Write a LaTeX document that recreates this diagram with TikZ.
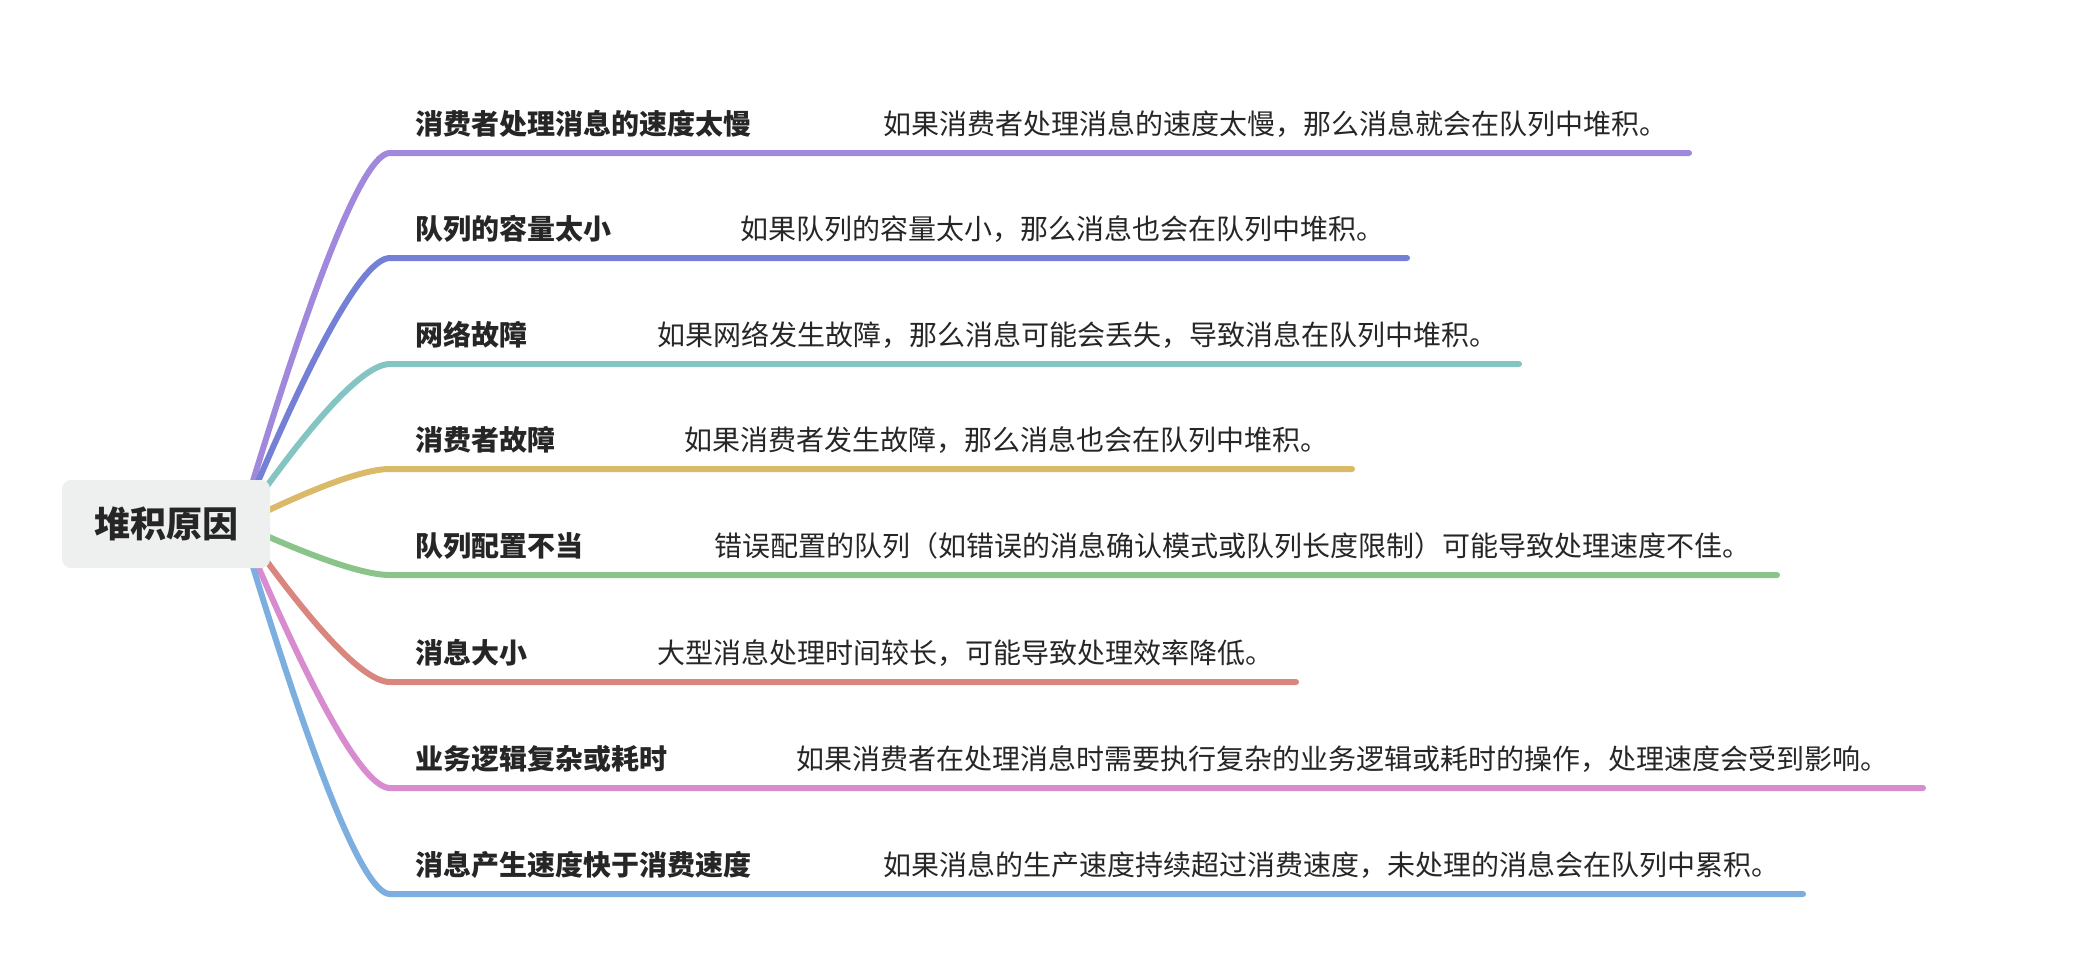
\documentclass[tikz,border=0pt]{standalone}
\usepackage{fontspec}
\setmainfont{Noto Sans CJK SC}
\usetikzlibrary{calc}
\definecolor{cA}{HTML}{A088DC}
\definecolor{cB}{HTML}{7380D6}
\definecolor{cC}{HTML}{84C5C3}
\definecolor{cD}{HTML}{DABA68}
\definecolor{cE}{HTML}{8AC48A}
\definecolor{cF}{HTML}{D9867E}
\definecolor{cG}{HTML}{D98BD0}
\definecolor{cH}{HTML}{7CAFDF}
\definecolor{txt}{HTML}{262626}
\definecolor{rootfill}{HTML}{EEF0EF}
\begin{document}
\begin{tikzpicture}[x=1pt,y=-1pt,
  branch/.style={line width=6pt,line cap=round},
  lab/.style={anchor=base west,inner sep=0pt,text=txt,font=\fontsize{28}{34}\selectfont\bfseries},
  des/.style={anchor=base west,inner sep=0pt,text=txt,font=\fontsize{28}{34}\selectfont},
  rootbox/.style={fill=rootfill,rounded corners=9pt,minimum width=208pt,minimum height=88pt,inner sep=0pt,text=txt,font=\fontsize{36}{42}\selectfont\bfseries}]
\useasboundingbox (0,0) rectangle (2084,962);
\coordinate (hub) at (240,524);
\foreach \ly/\ex/\dx/\col/\lab/\des [count=\i] in {
  153/1689/883/cA/消费者处理消息的速度太慢/如果消费者处理消息的速度太慢，那么消息就会在队列中堆积。,
  258/1407/740/cB/队列的容量太小/如果队列的容量太小，那么消息也会在队列中堆积。,
  364/1519/657/cC/网络故障/如果网络发生故障，那么消息可能会丢失，导致消息在队列中堆积。,
  469/1352/684/cD/消费者故障/如果消费者发生故障，那么消息也会在队列中堆积。,
  575/1777/714/cE/队列配置不当/错误配置的队列（如错误的消息确认模式或队列长度限制）可能导致处理速度不佳。,
  682/1296/657/cF/消息大小/大型消息处理时间较长，可能导致处理效率降低。,
  788/1923/796/cG/业务逻辑复杂或耗时/如果消费者在处理消息时需要执行复杂的业务逻辑或耗时的操作，处理速度会受到影响。,
  894/1803/883/cH/消息产生速度快于消费速度/如果消息的生产速度持续超过消费速度，未处理的消息会在队列中累积。}
{
  \coordinate (a\i) at (390,\ly);
  \coordinate (b\i) at (\ex,\ly);
  \draw[branch,draw=\col] (hub) .. controls ($(hub)!2/3!(351,\ly)$) and (364,\ly) .. (a\i) -- (b\i);
  \node[lab] (l\i) at (415,\ly-19) {\lab};
  \node[des] (d\i) at (\dx,\ly-19) {\des};
}
\node[rootbox] (root) at (166,524) {堆积原因};
\end{tikzpicture}
\end{document}
